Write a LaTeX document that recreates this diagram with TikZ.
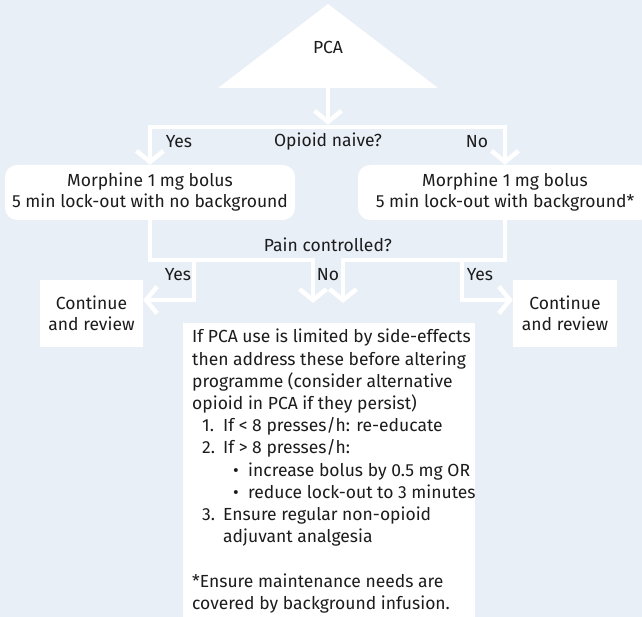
\documentclass[tikz,border=0pt]{standalone}
\usepackage{fontspec}
\setmainfont{Fira Sans}
\usetikzlibrary{arrows.meta}
\definecolor{bgblue}{RGB}{232,239,247}
\definecolor{ink}{RGB}{28,28,28}
\newcommand\advItem[1]{\hspace*{10pt}\makebox[21pt][l]{#1}}
\newcommand\advBullet{\hspace*{41pt}\makebox[15pt][l]{\textbullet}}

\begin{document}
\begin{tikzpicture}[x=1pt,y=-1pt,
  every node/.style={text=ink, font=\fontsize{17.5}{21}\selectfont},
  conn/.style={draw=white, line width=4.5pt, line join=miter},
  arr/.style={conn, -{Straight Barb[length=11pt,width=27pt]}},
  roundbox/.style={fill=white, rounded corners=12pt, inner sep=0pt, align=center},
  squarebox/.style={fill=white, inner sep=0pt, align=center},
  lbl/.style={inner sep=0pt}
]
% canvas
\fill[bgblue] (0,0) rectangle (642,617);
\useasboundingbox (0,0) rectangle (642,617);

% start triangle
\coordinate (apex) at (328,4);
\coordinate (baseL) at (218,88);
\coordinate (baseR) at (438,88);
\coordinate (tribase) at (328,88);
\fill[white] (apex) -- (baseR) -- (baseL) -- cycle;
\node[lbl] (pca) at (328,47) {PCA};

% first decision
\coordinate (split) at (328,127);
\node[lbl] (naive) at (328,142) {Opioid naive?};
\node[lbl] (yes1) at (179,142) {Yes};
\node[lbl] (no1) at (477,142) {No};

\node[roundbox, minimum width=290pt, minimum height=55pt] (noBG) at (150,192.5)
  {Morphine 1 mg bolus\\5 min lock-out with no background};
\node[roundbox, minimum width=294pt, minimum height=55pt] (withBG) at (505,192.5)
  {Morphine 1 mg bolus\\5 min lock-out with background*};

\draw[arr] (tribase) -- ([yshift=2.25pt]split);
\draw[arr] (split) -| (noBG.north);
\draw[arr] (split) -| (withBG.north);

% second decision
\node[lbl] (pain) at (328,245) {Pain controlled?};
\node[lbl] (yes2) at (178,275) {Yes};
\node[lbl] (no2) at (328,275) {No};
\node[lbl] (yes3) at (480,275) {Yes};

\node[squarebox, minimum width=103pt, minimum height=67pt] (contL) at (91.5,313.5)
  {Continue\\and review};
\node[squarebox, minimum width=104pt, minimum height=67pt] (contR) at (565,313.5)
  {Continue\\and review};

\node[fill=white, inner sep=0pt, minimum width=292pt, minimum height=300pt] (advice) at (329,473) {};
\node[anchor=north west, inner sep=0pt, align=left,
      font=\fontsize{17.5}{22.2}\selectfont] (adviceText) at (192,329)
  {If PCA use is limited by side-effects\\
   then address these before altering\\
   programme (consider alternative\\
   opioid in PCA if they persist)\\
   \advItem{1.}If < 8 presses/h: re-educate\\
   \advItem{2.}If > 8 presses/h:\\
   \advBullet increase bolus by 0.5 mg OR\\
   \advBullet reduce lock-out to 3 minutes\\
   \advItem{3.}Ensure regular non-opioid\\
   \advItem{}adjuvant analgesia\\[22.2pt]
   *Ensure maintenance needs are\\
   covered by background infusion.};

\coordinate (noL) at (313,260);
\coordinate (noLend) at (313,303);
\coordinate (noR) at (343,260);
\coordinate (noRend) at (343,303);
\coordinate (yesLtop) at (194,260);
\coordinate (yesRtop) at (462,260);

\draw[arr] (noBG.south) |- (noL) -- (noLend);
\draw[arr] (withBG.south) |- (noR) -- (noRend);
\draw[arr] (yesLtop) |- ([yshift=13.5pt]contL.east);
\draw[arr] (yesRtop) |- ([yshift=13.5pt]contR.west);
\end{tikzpicture}
\end{document}
